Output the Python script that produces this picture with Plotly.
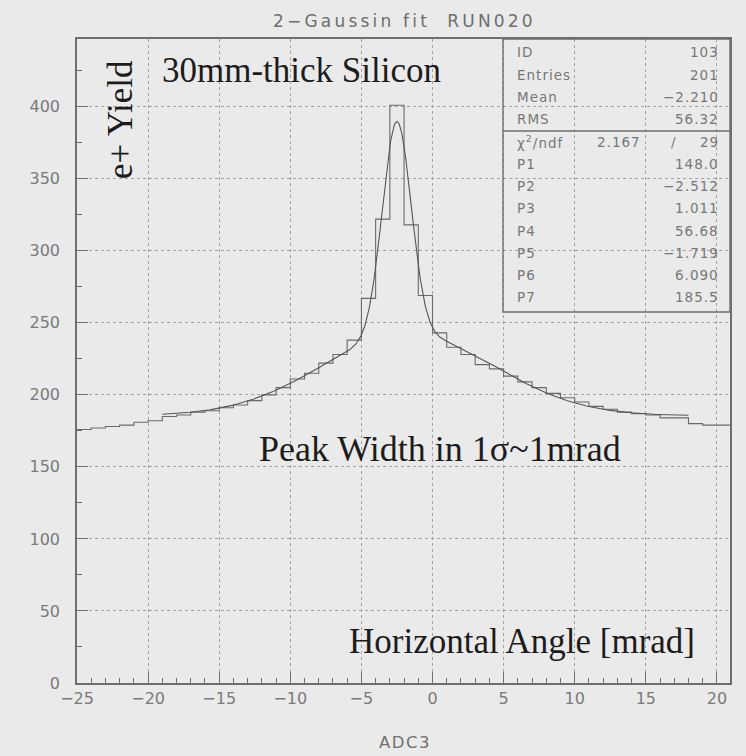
import numpy as np
import plotly.graph_objects as go

# ---- histogram: 1 mrad bins, lower edges from -25 to 20 ----
bin_lower = list(range(-25, 21))
counts = [176, 177, 178, 179, 181, 182, 185, 186, 188, 189,
          191, 193, 196, 200, 205, 211, 215, 222, 228, 238,
          267, 322, 401, 318, 269,
          243, 233, 228, 221, 218, 213, 209, 205, 201, 198,
          195, 192, 190, 188, 187, 186, 184, 184, 180, 179, 179]
bin_width = 1

# ---- statistics / fit results box ----
stat_names = ["ID", "Entries", "Mean", "RMS"]
stat_values = ["103", "201", "\u22122.210", "56.32"]
chi2_value = "2.167"
ndf_value = "29"
par_names = ["P1", "P2", "P3", "P4", "P5", "P6", "P7"]
par_values = [148.0, -2.512, 1.011, 56.68, -1.719, 6.090, 185.5]
par_labels = ["148.0", "\u22122.512", "1.011", "56.68", "\u22121.719", "6.090", "185.5"]
fit_range = [-19, 18]

# ---- plot frame in pixels ----
W, H = 746, 756
L, R, T, B = 77, 730, 39, 683


def px(x):
    return (x - L) / (R - L)


def py(y):
    return (B - y) / (B - T)


def spaced(text, sp):
    return f'<span style="letter-spacing:{sp}px">{text}</span>'


# step outline of the histogram
hx = bin_lower + [bin_lower[-1] + bin_width]
hy = counts + [counts[-1]]

# two Gaussians plus a constant, evaluated from the fitted parameters
p1, p2, p3, p4, p5, p6, p7 = par_values
fx = np.linspace(fit_range[0], fit_range[1], 800)
fy = (p1 * np.exp(-0.5 * ((fx - p2) / p3) ** 2)
      + p4 * np.exp(-0.5 * ((fx - p5) / p6) ** 2) + p7)

fig = go.Figure()
fig.add_trace(go.Scatter(x=hx, y=hy, mode="lines", line_shape="hv",
                         line=dict(color="#6a6a6a", width=1.1), hoverinfo="skip"))
fig.add_trace(go.Scatter(x=fx, y=fy, mode="lines",
                         line=dict(color="#555555", width=1.1), hoverinfo="skip"))

grey_txt = "#7a7a7a"
tickfont = dict(family="DejaVu Sans", size=16, color=grey_txt)
axis_common = dict(
    showline=True, linecolor="#6e6e6e", linewidth=1.6, mirror=True,
    showgrid=True, gridcolor="#a2a2a2", griddash="3px,3px", gridwidth=1,
    zeroline=False, ticks="inside", ticklen=11, tickwidth=1.2, tickcolor="#707070",
    tickfont=tickfont,
)

fig.update_layout(
    width=W, height=H,
    margin=dict(l=L, r=W - R, t=T, b=H - B, pad=0),
    paper_bgcolor="#eaeaea", plot_bgcolor="#eaeaea",
    showlegend=False,
    xaxis=dict(range=[-25, 20.92], dtick=5, tick0=-25,
               minor=dict(dtick=1, ticks="inside", ticklen=5, tickcolor="#707070",
                          showgrid=False),
               **axis_common),
    yaxis=dict(range=[0, 447], dtick=50, tick0=0, ticklabelstandoff=12,
               minor=dict(dtick=25, ticks="inside", ticklen=5, tickcolor="#707070",
                          showgrid=False),
               **axis_common),
)

ann = []


def add_text(x, y, text, size, color, family, xanchor="center", yanchor="middle", angle=0):
    ann.append(dict(x=px(x), y=py(y), xref="paper", yref="paper", text=text,
                    showarrow=False, xanchor=xanchor, yanchor=yanchor, textangle=angle,
                    font=dict(family=family, size=size, color=color)))


# title and axis caption
add_text(405, 21, spaced("2\u2212Gaussin fit \u00a0RUN020", 3.2), 17, "#6e6e6e", "DejaVu Sans")
add_text(405, 742, spaced("ADC3", 1.5), 16.5, "#707070", "DejaVu Sans")

# serif labels written on the plot
serif = "Liberation Serif"
dark = "#1c1c1c"
add_text(160, 71, "30mm-thick Silicon", 35, dark, serif, xanchor="left")
add_text(121, 120, "e+ Yield", 35, dark, serif, angle=-90)
add_text(440, 449, "Peak Width in 1\u03c3~1mrad", 36, dark, serif)
add_text(522, 641, "Horizontal Angle [mrad]", 35, dark, serif)

# stats box contents
sf = "DejaVu Sans"
ssz = 13.5
scol = "#777777"
row_y = [52, 75, 97, 119]
for name, val, y in zip(stat_names, stat_values, row_y):
    add_text(515, y, spaced(name, 1), ssz, scol, sf, xanchor="left")
    add_text(721, y, spaced(val, 1), ssz, scol, sf, xanchor="right")
add_text(515, 142, spaced("\u03c7<sup>2</sup>/ndf", 1), ssz, scol, sf, xanchor="left")
add_text(643, 142, spaced(chi2_value, 1), ssz, scol, sf, xanchor="right")
add_text(673, 142, "/", ssz, scol, sf)
add_text(721, 142, spaced(ndf_value, 1), ssz, scol, sf, xanchor="right")
par_y = [164, 186, 208, 231, 253, 275, 297]
for name, lab, y in zip(par_names, par_labels, par_y):
    add_text(515, y, spaced(name, 1), ssz, scol, sf, xanchor="left")
    add_text(721, y, spaced(lab, 1), ssz, scol, sf, xanchor="right")

fig.update_layout(annotations=ann)

fig.update_layout(shapes=[
    dict(type="rect", xref="paper", yref="paper", x0=px(503), x1=px(730),
         y0=py(312), y1=py(39), line=dict(color="#6e6e6e", width=1.4),
         fillcolor="rgba(0,0,0,0)"),
    dict(type="line", xref="paper", yref="paper", x0=px(503), x1=px(730),
         y0=py(131), y1=py(131), line=dict(color="#6e6e6e", width=1.4)),
])

fig.write_html("out.html")
